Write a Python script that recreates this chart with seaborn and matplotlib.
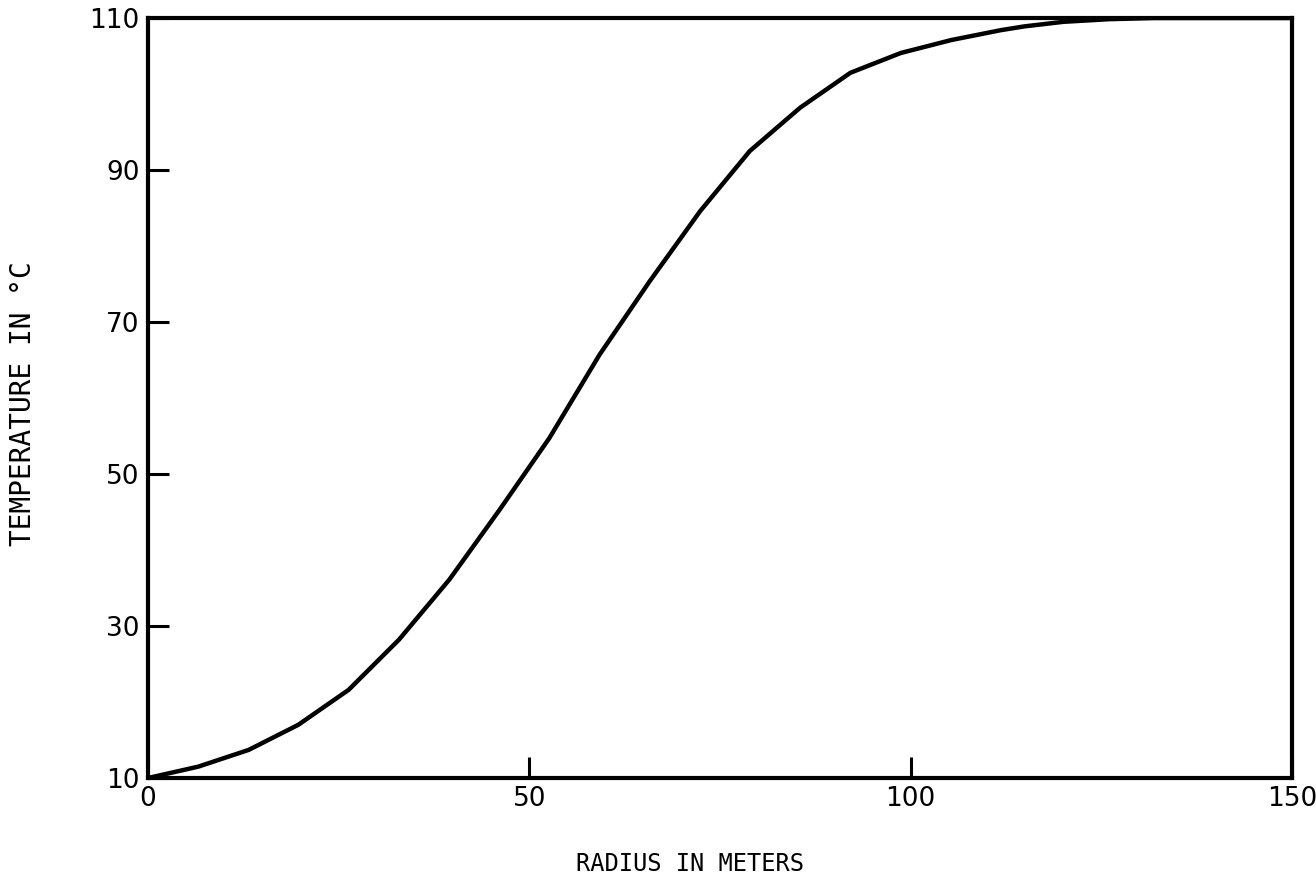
import numpy as np
import pandas as pd
import seaborn as sns
import matplotlib.pyplot as plt

# values
radius = [0, 6.6, 13.2, 19.7, 26.3, 32.9, 39.5, 46.1, 52.6, 59.2, 65.8,
          72.4, 78.9, 85.5, 92.1, 98.7, 105.3, 111.8, 114.9, 120, 126, 132,
          150]
temperature = [10, 11.5, 13.7, 17.0, 21.6, 28.2, 36.1, 45.3, 54.7, 65.7,
               75.4, 84.6, 92.5, 98.2, 102.8, 105.4, 107.1, 108.4, 108.9,
               109.5, 109.85, 110, 110]
xticks = [0, 50, 100, 150]
yticks = [10, 30, 50, 70, 90, 110]

df = pd.DataFrame({"radius": radius, "temperature": temperature})

sns.set_style("white")
plt.rcParams['font.family'] = ['DejaVu Sans']

fig = plt.figure(figsize=(13.16, 8.84), dpi=100)
ax = fig.add_axes([0.1125, 0.1199, 0.8693, 0.8597])

sns.lineplot(data=df, x="radius", y="temperature", ax=ax, color="black",
             linewidth=3.2, solid_joinstyle="round")

ax.set_xlim(0, 150)
ax.set_ylim(10, 110)
ax.set_xticks(xticks)
ax.set_yticks(yticks)
ax.tick_params(bottom=True, left=True, top=False, right=False,
               direction="in", length=15, width=2.2, labelsize=19,
               color="black", labelcolor="black", pad=6)
for s in ax.spines.values():
    s.set_linewidth(3)
    s.set_color("black")

ax.set_xlabel("RADIUS IN METERS", fontsize=17, family="DejaVu Sans Mono",
              color="black")
ax.set_ylabel("TEMPERATURE IN °C", fontsize=20, family="DejaVu Sans Mono",
              color="black")
ax.xaxis.set_label_coords(0.474, -0.097)
ax.yaxis.set_label_coords(-0.097, 0.492)

fig.savefig("out.png", dpi=100)
